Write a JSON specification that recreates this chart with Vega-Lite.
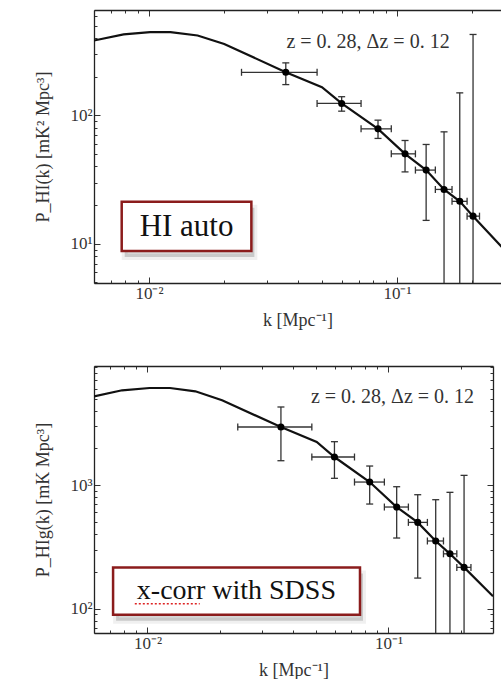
{
  "$schema": "https://vega.github.io/schema/vega-lite/v6.json",
  "padding": {"left": 34, "top": 9, "right": 0, "bottom": 0},
  "background": "white",
  "spacing": 36,
  "config": {
    "view": {"stroke": null},
    "font": "Liberation Serif",
    "axis": {
      "labelFont": "Liberation Serif", "titleFont": "Liberation Serif",
      "labelFontSize": 17, "titleFontSize": 18, "titleFontWeight": "normal",
      "labelColor": "#333", "titleColor": "#333", "tickColor": "#333",
      "domainColor": "#222", "domainWidth": 1.3, "grid": false, "labelPadding": 8, "titlePadding": 17
    }
  },
  "datasets": {
    "top_pts": [
      {"k": 0.0356, "P": 217, "klo": 0.0236, "khi": 0.0476, "lo": 174, "hi": 257},
      {"k": 0.0598, "P": 124, "klo": 0.0476, "khi": 0.0716, "lo": 108, "hi": 140},
      {"k": 0.0838, "P": 78.6, "klo": 0.0716, "khi": 0.0948, "lo": 66.2, "hi": 91.9},
      {"k": 0.1077, "P": 50.2, "klo": 0.0948, "khi": 0.1186, "lo": 36.3, "hi": 63.8},
      {"k": 0.131, "P": 37.5, "klo": 0.1186, "khi": 0.1427, "lo": 15.2, "hi": 59.4},
      {"k": 0.1547, "P": 26.5, "klo": 0.1427, "khi": 0.1666, "lo": 1, "hi": 74.5},
      {"k": 0.179, "P": 21.4, "klo": 0.1666, "khi": 0.1916, "lo": 1, "hi": 150},
      {"k": 0.2025, "P": 16.4, "klo": 0.1916, "khi": 0.215, "lo": 1, "hi": 428}
    ],
    "top_curve": [
      {"k": 0.006, "P": 384}, {"k": 0.0079, "P": 428}, {"k": 0.0101, "P": 446}, {"k": 0.0122, "P": 446},
      {"k": 0.0157, "P": 420}, {"k": 0.0201, "P": 361}, {"k": 0.0356, "P": 217}, {"k": 0.0498, "P": 166},
      {"k": 0.0598, "P": 124}, {"k": 0.0838, "P": 78.6}, {"k": 0.1077, "P": 50.2}, {"k": 0.131, "P": 37.5},
      {"k": 0.1547, "P": 26.5}, {"k": 0.179, "P": 21.4}, {"k": 0.2025, "P": 16.4}, {"k": 0.265, "P": 9.4}
    ],
    "bot_pts": [
      {"k": 0.0358, "P": 2943, "klo": 0.0237, "khi": 0.0481, "lo": 1572, "hi": 4272},
      {"k": 0.0597, "P": 1684, "klo": 0.0481, "khi": 0.0723, "lo": 1133, "hi": 2240},
      {"k": 0.0836, "P": 1057, "klo": 0.0723, "khi": 0.0962, "lo": 702, "hi": 1424},
      {"k": 0.1082, "P": 664, "klo": 0.0962, "khi": 0.121, "lo": 373, "hi": 969},
      {"k": 0.1323, "P": 499, "klo": 0.121, "khi": 0.1451, "lo": 177, "hi": 835},
      {"k": 0.1571, "P": 353, "klo": 0.1451, "khi": 0.1692, "lo": 10, "hi": 761},
      {"k": 0.18, "P": 278, "klo": 0.1692, "khi": 0.1922, "lo": 10, "hi": 873},
      {"k": 0.206, "P": 216, "klo": 0.1922, "khi": 0.22, "lo": 10, "hi": 1197}
    ],
    "bot_curve": [
      {"k": 0.006, "P": 5212}, {"k": 0.00785, "P": 5830}, {"k": 0.0102, "P": 6083}, {"k": 0.0124, "P": 6083},
      {"k": 0.0158, "P": 5721}, {"k": 0.0204, "P": 4838}, {"k": 0.0358, "P": 2943}, {"k": 0.0504, "P": 2226},
      {"k": 0.0597, "P": 1684}, {"k": 0.0836, "P": 1057}, {"k": 0.1082, "P": 664}, {"k": 0.1323, "P": 499},
      {"k": 0.1571, "P": 353}, {"k": 0.18, "P": 278}, {"k": 0.206, "P": 216}, {"k": 0.2716, "P": 126}
    ],
    "top_box": [{"x1": 0.00776, "x2": 0.02586, "y1": 8.77, "y2": 21.2, "label": "HI auto", "kc": 0.01417, "pc": 13.6}],
    "bot_box": [{"x1": 0.0072, "x2": 0.0762, "y1": 89.4, "y2": 216, "label": "x-corr with SDSS", "kc": 0.0234, "pc": 139}],
    "top_note": [{"k": 0.0764, "P": 375, "t": "z = 0. 28, Δz = 0. 12"}],
    "bot_note": [{"k": 0.104, "P": 5117, "t": "z = 0. 28, Δz = 0. 12"}],
    "bot_underline": [{"k1": 0.00886, "k2": 0.01648, "P": 109.7}]
  },
  "vconcat": [
    {
      "width": 407,
      "height": 273,
      "resolve": {"axis": {"x": "independent", "y": "independent"}},
      "layer": [
        {
          "data": {"name": "top_box"},
          "mark": {"type": "rect", "fill": "#000", "fillOpacity": 0.16, "stroke": "#000", "strokeOpacity": 0.06, "strokeWidth": 6, "xOffset": 3, "x2Offset": 3, "yOffset": 6, "y2Offset": 6},
          "encoding": {
            "x": {"field": "x1", "type": "quantitative", "scale": {"type": "log", "domain": [0.006, 0.2625]}, "axis": null},
            "x2": {"field": "x2"},
            "y": {"field": "y1", "type": "quantitative", "scale": {"type": "log", "domain": [4.94, 664]}, "axis": null},
            "y2": {"field": "y2"}
          }
        },
        {
          "data": {"name": "top_box"},
          "mark": {"type": "rect", "fill": "white", "stroke": "#8b1c1c", "strokeWidth": 2.5},
          "encoding": {
            "x": {"field": "x1", "type": "quantitative", "scale": {"type": "log", "domain": [0.006, 0.2625]}, "axis": null},
            "x2": {"field": "x2"},
            "y": {"field": "y1", "type": "quantitative", "scale": {"type": "log", "domain": [4.94, 664]}, "axis": null},
            "y2": {"field": "y2"}
          }
        },
        {
          "data": {"name": "top_box"},
          "mark": {"type": "text", "font": "Liberation Serif", "fontSize": 31, "color": "#111", "align": "center", "baseline": "middle"},
          "encoding": {
            "x": {"field": "kc", "type": "quantitative", "scale": {"type": "log", "domain": [0.006, 0.2625]}, "axis": null},
            "y": {"field": "pc", "type": "quantitative", "scale": {"type": "log", "domain": [4.94, 664]}, "axis": null},
            "text": {"field": "label"}
          }
        },
        {
          "data": {"name": "top_curve"},
          "mark": {"type": "line", "color": "#111", "strokeWidth": 2.2, "clip": true},
          "encoding": {
            "x": {"field": "k", "type": "quantitative", "scale": {"type": "log", "domain": [0.006, 0.2625]},
              "axis": {"orient": "bottom", "title": "k [Mpc⁻¹]", "titlePadding": 10, "labelFont": "Liberation Serif", "titleFont": "Liberation Serif", "values": [0.006, 0.007, 0.008, 0.009, 0.01, 0.02, 0.03, 0.04, 0.05, 0.06, 0.07, 0.08, 0.09, 0.1, 0.2],
                "labelExpr": "datum.value == 0.01 ? '10⁻²' : datum.value == 0.1 ? '10⁻¹' : ''",
                "tickSize": {"condition": {"test": "datum.value == 0.01 || datum.value == 0.1", "value": -6}, "value": -3}}},
            "y": {"field": "P", "type": "quantitative", "scale": {"type": "log", "domain": [4.94, 664]},
              "axis": {"orient": "left", "title": "P_HI(k) [mK² Mpc³]", "labelFont": "Liberation Serif", "titleFont": "Liberation Serif", "values": [5, 6, 7, 8, 9, 10, 20, 30, 40, 50, 60, 70, 80, 90, 100, 200, 300, 400, 500, 600],
                "labelExpr": "datum.value == 10 ? '10¹' : datum.value == 100 ? '10²' : ''",
                "tickSize": {"condition": {"test": "datum.value == 10 || datum.value == 100", "value": -6}, "value": -3}}}
          }
        },
        {
          "data": {"name": "top_pts"},
          "mark": {"type": "rule", "color": "#333", "strokeWidth": 1.3, "clip": true},
          "encoding": {
            "x": {"field": "k", "type": "quantitative", "scale": {"type": "log", "domain": [0.006, 0.2625]}, "axis": null},
            "y": {"field": "lo", "type": "quantitative", "scale": {"type": "log", "domain": [4.94, 664]}, "axis": null},
            "y2": {"field": "hi"}
          }
        },
        {
          "data": {"name": "top_pts"},
          "mark": {"type": "rule", "color": "#333", "strokeWidth": 1.3, "clip": true},
          "encoding": {
            "x": {"field": "klo", "type": "quantitative", "scale": {"type": "log", "domain": [0.006, 0.2625]}, "axis": null},
            "x2": {"field": "khi"},
            "y": {"field": "P", "type": "quantitative", "scale": {"type": "log", "domain": [4.94, 664]}, "axis": null}
          }
        },
        {
          "data": {"name": "top_pts"},
          "mark": {"type": "tick", "orient": "horizontal", "size": 7, "thickness": 1.3, "color": "#333", "opacity": 1, "clip": true},
          "encoding": {
            "x": {"field": "k", "type": "quantitative", "scale": {"type": "log", "domain": [0.006, 0.2625]}, "axis": null},
            "y": {"field": "hi", "type": "quantitative", "scale": {"type": "log", "domain": [4.94, 664]}, "axis": null}
          }
        },
        {
          "data": {"name": "top_pts"},
          "mark": {"type": "tick", "orient": "horizontal", "size": 7, "thickness": 1.3, "color": "#333", "opacity": 1, "clip": true},
          "encoding": {
            "x": {"field": "k", "type": "quantitative", "scale": {"type": "log", "domain": [0.006, 0.2625]}, "axis": null},
            "y": {"field": "lo", "type": "quantitative", "scale": {"type": "log", "domain": [4.94, 664]}, "axis": null}
          }
        },
        {
          "data": {"name": "top_pts"},
          "mark": {"type": "tick", "orient": "vertical", "size": 7, "thickness": 1.3, "color": "#333", "opacity": 1, "clip": true},
          "encoding": {
            "x": {"field": "klo", "type": "quantitative", "scale": {"type": "log", "domain": [0.006, 0.2625]}, "axis": null},
            "y": {"field": "P", "type": "quantitative", "scale": {"type": "log", "domain": [4.94, 664]}, "axis": null}
          }
        },
        {
          "data": {"name": "top_pts"},
          "mark": {"type": "tick", "orient": "vertical", "size": 7, "thickness": 1.3, "color": "#333", "opacity": 1, "clip": true},
          "encoding": {
            "x": {"field": "khi", "type": "quantitative", "scale": {"type": "log", "domain": [0.006, 0.2625]}, "axis": null},
            "y": {"field": "P", "type": "quantitative", "scale": {"type": "log", "domain": [4.94, 664]}, "axis": null}
          }
        },
        {
          "data": {"name": "top_pts"},
          "mark": {"type": "circle", "size": 50, "color": "#000", "opacity": 1},
          "encoding": {
            "x": {"field": "k", "type": "quantitative", "scale": {"type": "log", "domain": [0.006, 0.2625]},
              "axis": {"orient": "top", "title": null, "labels": false, "values": [0.006, 0.007, 0.008, 0.009, 0.01, 0.02, 0.03, 0.04, 0.05, 0.06, 0.07, 0.08, 0.09, 0.1, 0.2],
                "tickSize": {"condition": {"test": "datum.value == 0.01 || datum.value == 0.1", "value": -6}, "value": -3}}},
            "y": {"field": "P", "type": "quantitative", "scale": {"type": "log", "domain": [4.94, 664]}, "axis": null}
          }
        },
        {
          "data": {"name": "top_note"},
          "mark": {"type": "text", "font": "Liberation Serif", "fontSize": 20, "color": "#333", "align": "center", "baseline": "middle"},
          "encoding": {
            "x": {"field": "k", "type": "quantitative", "scale": {"type": "log", "domain": [0.006, 0.2625]}, "axis": null},
            "y": {"field": "P", "type": "quantitative", "scale": {"type": "log", "domain": [4.94, 664]}, "axis": null},
            "text": {"field": "t"}
          }
        }
      ]
    },
    {
      "width": 399,
      "height": 267,
      "resolve": {"axis": {"x": "independent", "y": "independent"}},
      "layer": [
        {
          "data": {"name": "bot_box"},
          "mark": {"type": "rect", "fill": "#000", "fillOpacity": 0.16, "stroke": "#000", "strokeOpacity": 0.06, "strokeWidth": 6, "xOffset": 3, "x2Offset": 3, "yOffset": 6, "y2Offset": 6},
          "encoding": {
            "x": {"field": "x1", "type": "quantitative", "scale": {"type": "log", "domain": [0.006, 0.2716]}, "axis": null},
            "x2": {"field": "x2"},
            "y": {"field": "y1", "type": "quantitative", "scale": {"type": "log", "domain": [63.7, 9160]}, "axis": null},
            "y2": {"field": "y2"}
          }
        },
        {
          "data": {"name": "bot_box"},
          "mark": {"type": "rect", "fill": "white", "stroke": "#8b1c1c", "strokeWidth": 2.5},
          "encoding": {
            "x": {"field": "x1", "type": "quantitative", "scale": {"type": "log", "domain": [0.006, 0.2716]}, "axis": null},
            "x2": {"field": "x2"},
            "y": {"field": "y1", "type": "quantitative", "scale": {"type": "log", "domain": [63.7, 9160]}, "axis": null},
            "y2": {"field": "y2"}
          }
        },
        {
          "data": {"name": "bot_box"},
          "mark": {"type": "text", "font": "Liberation Serif", "fontSize": 28, "color": "#111", "align": "center", "baseline": "middle"},
          "encoding": {
            "x": {"field": "kc", "type": "quantitative", "scale": {"type": "log", "domain": [0.006, 0.2716]}, "axis": null},
            "y": {"field": "pc", "type": "quantitative", "scale": {"type": "log", "domain": [63.7, 9160]}, "axis": null},
            "text": {"field": "label"}
          }
        },
        {
          "data": {"name": "bot_underline"},
          "mark": {"type": "rule", "color": "#dd2222", "strokeWidth": 1.5, "strokeDash": [2, 2]},
          "encoding": {
            "x": {"field": "k1", "type": "quantitative", "scale": {"type": "log", "domain": [0.006, 0.2716]}, "axis": null},
            "x2": {"field": "k2"},
            "y": {"field": "P", "type": "quantitative", "scale": {"type": "log", "domain": [63.7, 9160]}, "axis": null}
          }
        },
        {
          "data": {"name": "bot_curve"},
          "mark": {"type": "line", "color": "#111", "strokeWidth": 2.2, "clip": true},
          "encoding": {
            "x": {"field": "k", "type": "quantitative", "scale": {"type": "log", "domain": [0.006, 0.2716]},
              "axis": {"orient": "bottom", "title": "k [Mpc⁻¹]", "titlePadding": 10, "labelFont": "Liberation Serif", "titleFont": "Liberation Serif", "values": [0.006, 0.007, 0.008, 0.009, 0.01, 0.02, 0.03, 0.04, 0.05, 0.06, 0.07, 0.08, 0.09, 0.1, 0.2],
                "labelExpr": "datum.value == 0.01 ? '10⁻²' : datum.value == 0.1 ? '10⁻¹' : ''",
                "tickSize": {"condition": {"test": "datum.value == 0.01 || datum.value == 0.1", "value": -6}, "value": -3}}},
            "y": {"field": "P", "type": "quantitative", "scale": {"type": "log", "domain": [63.7, 9160]},
              "axis": {"orient": "left", "title": "P_HIg(k) [mK Mpc³]", "labelFont": "Liberation Serif", "titleFont": "Liberation Serif", "values": [70, 80, 90, 100, 200, 300, 400, 500, 600, 700, 800, 900, 1000, 2000, 3000, 4000, 5000, 6000, 7000, 8000, 9000],
                "labelExpr": "datum.value == 100 ? '10²' : datum.value == 1000 ? '10³' : ''",
                "tickSize": {"condition": {"test": "datum.value == 100 || datum.value == 1000", "value": -6}, "value": -3}}}
          }
        },
        {
          "data": {"name": "bot_pts"},
          "mark": {"type": "rule", "color": "#333", "strokeWidth": 1.3, "clip": true},
          "encoding": {
            "x": {"field": "k", "type": "quantitative", "scale": {"type": "log", "domain": [0.006, 0.2716]}, "axis": null},
            "y": {"field": "lo", "type": "quantitative", "scale": {"type": "log", "domain": [63.7, 9160]}, "axis": null},
            "y2": {"field": "hi"}
          }
        },
        {
          "data": {"name": "bot_pts"},
          "mark": {"type": "rule", "color": "#333", "strokeWidth": 1.3, "clip": true},
          "encoding": {
            "x": {"field": "klo", "type": "quantitative", "scale": {"type": "log", "domain": [0.006, 0.2716]}, "axis": null},
            "x2": {"field": "khi"},
            "y": {"field": "P", "type": "quantitative", "scale": {"type": "log", "domain": [63.7, 9160]}, "axis": null}
          }
        },
        {
          "data": {"name": "bot_pts"},
          "mark": {"type": "tick", "orient": "horizontal", "size": 7, "thickness": 1.3, "color": "#333", "opacity": 1, "clip": true},
          "encoding": {
            "x": {"field": "k", "type": "quantitative", "scale": {"type": "log", "domain": [0.006, 0.2716]}, "axis": null},
            "y": {"field": "hi", "type": "quantitative", "scale": {"type": "log", "domain": [63.7, 9160]}, "axis": null}
          }
        },
        {
          "data": {"name": "bot_pts"},
          "mark": {"type": "tick", "orient": "horizontal", "size": 7, "thickness": 1.3, "color": "#333", "opacity": 1, "clip": true},
          "encoding": {
            "x": {"field": "k", "type": "quantitative", "scale": {"type": "log", "domain": [0.006, 0.2716]}, "axis": null},
            "y": {"field": "lo", "type": "quantitative", "scale": {"type": "log", "domain": [63.7, 9160]}, "axis": null}
          }
        },
        {
          "data": {"name": "bot_pts"},
          "mark": {"type": "tick", "orient": "vertical", "size": 7, "thickness": 1.3, "color": "#333", "opacity": 1, "clip": true},
          "encoding": {
            "x": {"field": "klo", "type": "quantitative", "scale": {"type": "log", "domain": [0.006, 0.2716]}, "axis": null},
            "y": {"field": "P", "type": "quantitative", "scale": {"type": "log", "domain": [63.7, 9160]}, "axis": null}
          }
        },
        {
          "data": {"name": "bot_pts"},
          "mark": {"type": "tick", "orient": "vertical", "size": 7, "thickness": 1.3, "color": "#333", "opacity": 1, "clip": true},
          "encoding": {
            "x": {"field": "khi", "type": "quantitative", "scale": {"type": "log", "domain": [0.006, 0.2716]}, "axis": null},
            "y": {"field": "P", "type": "quantitative", "scale": {"type": "log", "domain": [63.7, 9160]}, "axis": null}
          }
        },
        {
          "data": {"name": "bot_pts"},
          "mark": {"type": "circle", "size": 50, "color": "#000", "opacity": 1},
          "encoding": {
            "x": {"field": "k", "type": "quantitative", "scale": {"type": "log", "domain": [0.006, 0.2716]},
              "axis": {"orient": "top", "title": null, "labels": false, "values": [0.006, 0.007, 0.008, 0.009, 0.01, 0.02, 0.03, 0.04, 0.05, 0.06, 0.07, 0.08, 0.09, 0.1, 0.2],
                "tickSize": {"condition": {"test": "datum.value == 0.01 || datum.value == 0.1", "value": -6}, "value": -3}}},
            "y": {"field": "P", "type": "quantitative", "scale": {"type": "log", "domain": [63.7, 9160]},
              "axis": {"orient": "right", "title": null, "labels": false, "values": [70, 80, 90, 100, 200, 300, 400, 500, 600, 700, 800, 900, 1000, 2000, 3000, 4000, 5000, 6000, 7000, 8000, 9000],
                "tickSize": {"condition": {"test": "datum.value == 100 || datum.value == 1000", "value": -6}, "value": -3}}}
          }
        },
        {
          "data": {"name": "bot_note"},
          "mark": {"type": "text", "font": "Liberation Serif", "fontSize": 20, "color": "#333", "align": "center", "baseline": "middle"},
          "encoding": {
            "x": {"field": "k", "type": "quantitative", "scale": {"type": "log", "domain": [0.006, 0.2716]}, "axis": null},
            "y": {"field": "P", "type": "quantitative", "scale": {"type": "log", "domain": [63.7, 9160]}, "axis": null},
            "text": {"field": "t"}
          }
        }
      ]
    }
  ]
}
